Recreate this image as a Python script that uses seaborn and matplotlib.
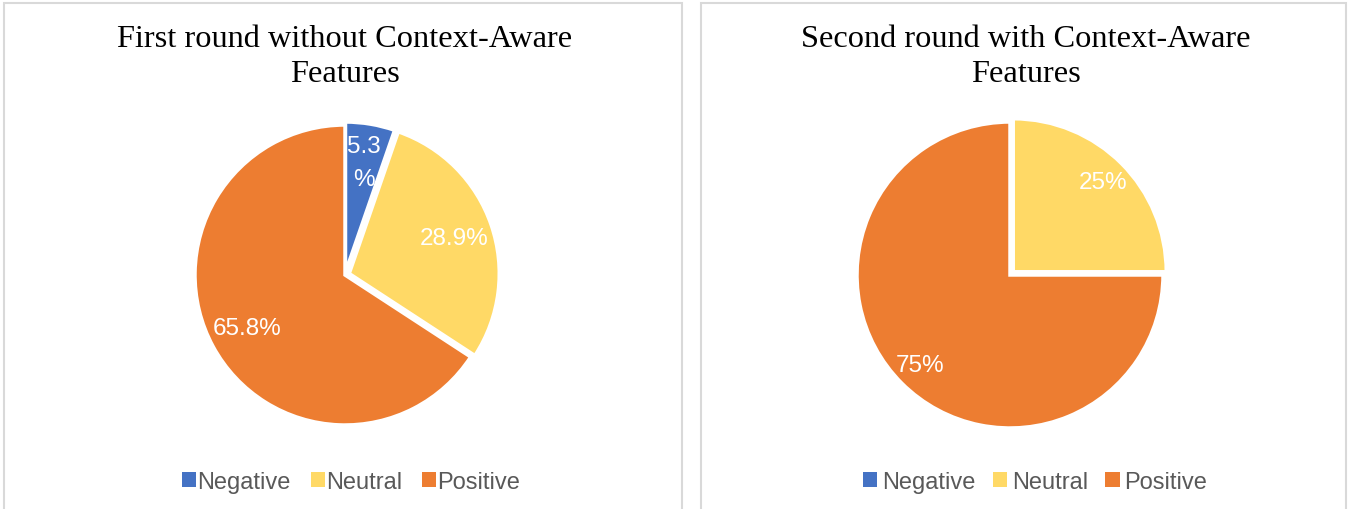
import matplotlib
matplotlib.use("Agg")
import matplotlib.pyplot as plt
from matplotlib.patches import Rectangle, Patch
import seaborn as sns

# data
categories = ["Negative", "Neutral", "Positive"]
first_round = [5.3, 28.9, 65.8]
second_round = [0, 25, 75]
titles = ["First round without Context-Aware\nFeatures",
          "Second round with Context-Aware\nFeatures"]

sns.set_theme(style="white")
plt.rcParams["font.family"] = ["Liberation Sans", "DejaVu Sans"]
colors = ["#4472C4", "#FFD966", "#ED7D31"]

W, H = 1348, 510
fig = plt.figure(figsize=(W / 100, H / 100), dpi=100)
fig.patch.set_facecolor("white")

# panel frames
for x0, x1 in [(4, 682), (701, 1346)]:
    fig.patches.append(Rectangle((x0 / W, -0.02), (x1 - x0) / W, (H - 4) / H + 0.02,
                                 transform=fig.transFigure, fill=False,
                                 edgecolor="#d9d9d9", linewidth=1.5))


def pct_label(v):
    if v < 0.5:
        return ""
    if v < 10:
        return "%.1f\n%%" % v
    if abs(v - round(v)) < 0.05:
        return "%d%%" % round(v)
    return "%.1f%%" % v


def draw_pie(cx, cy, r, values, explode, pctdist):
    pad = 1.1
    ax = fig.add_axes([(cx - pad * r) / W, (H - cy - pad * r) / H,
                       2 * pad * r / W, 2 * pad * r / H])
    wedges, texts, autotexts = ax.pie(values, colors=colors, startangle=90,
                                      counterclock=False, explode=explode,
                                      autopct=pct_label, pctdistance=pctdist,
                                      wedgeprops=dict(edgecolor="white", linewidth=2.5),
                                      textprops=dict(color="white", fontsize=17.5))
    for t in autotexts:
        t.set_linespacing(1.6)
    ax.set_xlim(-pad, pad)
    ax.set_ylim(-pad, pad)
    ax.set_aspect("equal")
    ax.axis("off")
    return ax


draw_pie(345, 276, 150, first_round, [0.02, 0.03, 0.0], 0.74)
draw_pie(1010, 276, 153, second_round, [0.0, 0.03, 0.0], 0.83)

for cx, title in zip([345, 1026], titles):
    fig.text(cx / W, 1 - 25 / H, title, ha="center", va="top", fontsize=23.3,
             family=["Liberation Serif", "DejaVu Serif"], linespacing=1.28,
             color="black")

handles = [Patch(facecolor=c, edgecolor="none") for c in colors]
for cx, tp, cs in [(351, 0.05, 0.85), (1035, 0.2, 0.75)]:
    fig.legend(handles, categories, loc="center", bbox_to_anchor=(cx / W, 1 - 483 / H),
               ncol=3, frameon=False, fontsize=17, handlelength=0.6, handleheight=0.6,
               handletextpad=tp, columnspacing=cs, labelcolor="#595959",
               borderpad=0)

fig.savefig("out.png", dpi=100, facecolor="white")
